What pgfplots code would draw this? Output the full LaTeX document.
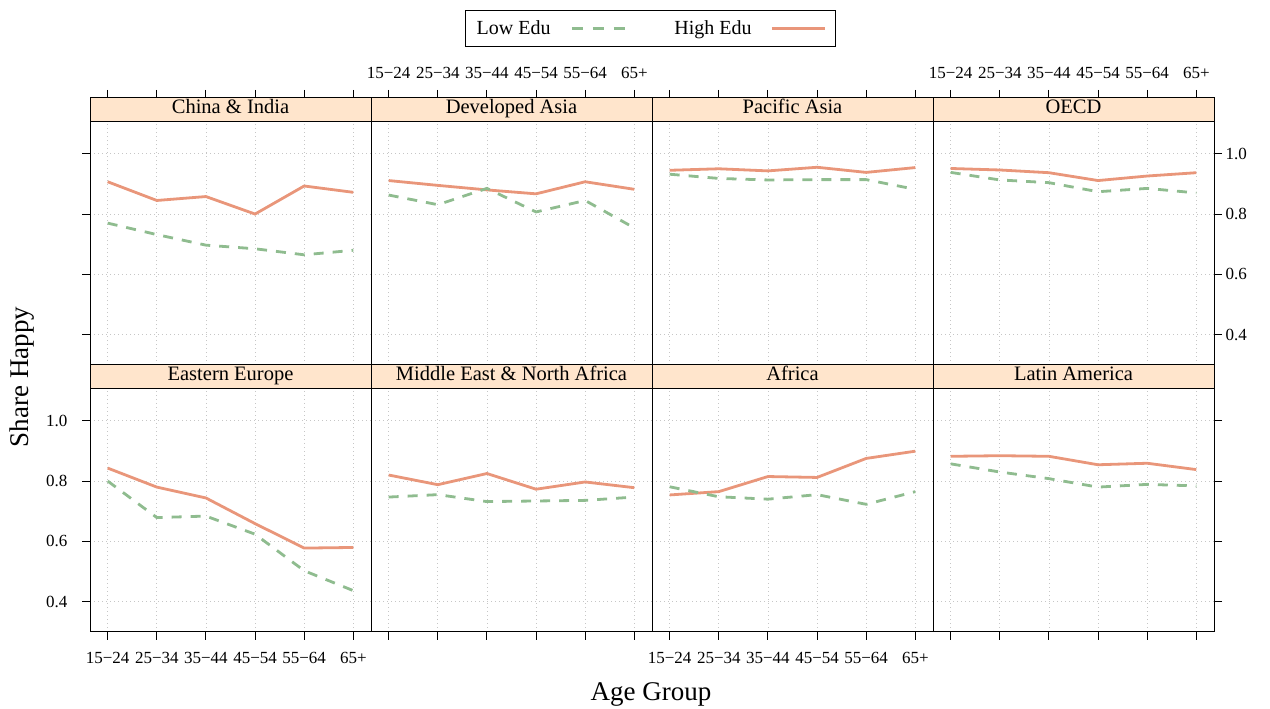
\documentclass[border=0pt]{standalone}
\usepackage{fontspec}
\setmainfont{Liberation Serif}
\usepackage{pgfplots}
\pgfplotsset{compat=1.18}
\definecolor{stripbg}{HTML}{FFE5CC}
\definecolor{hicol}{HTML}{E9967A}
\definecolor{locol}{HTML}{8FBC8F}
\pgfplotsset{
  panel/.style={
    scale only axis, width=281pt, height=267pt, anchor=south west,
    xmin=0.64, xmax=6.36, ymin=0.30, ymax=1.1845,
    xtick={1,...,6}, ytick={0.4,0.6,0.8,1.0},
    xticklabels={15−24,25−34,35−44,45−54,55−64,65+},
    grid=major,
    major grid style={draw=gray!45, line width=0.8pt, dash pattern=on 1pt off 3pt},
    tick align=outside, major tick length=8pt,
    tick style={black, line width=1pt},
    axis line style={line width=1pt},
    tick label style={font=\fontsize{17}{20}\selectfont},
    /pgf/number format/assume math mode=true,
    yticklabel style={/pgf/number format/fixed, /pgf/number format/fixed zerofill, /pgf/number format/precision=1},
  },
  toprow/.style={xtick pos=upper, xticklabel pos=upper, xticklabel style={/tikz/yshift=8pt}},
  botrow/.style={xtick pos=lower, xticklabel pos=lower, xticklabel style={/tikz/yshift=-9pt}},
  hi/.style={hicol, line width=2.8pt},
  lo/.style={locol, line width=2.8pt, dash pattern=on 10pt off 9pt},
  noy/.style={ytick style={draw=none}, yticklabels={}},
}
\newcommand{\strip}[1]{%
  \draw[fill=stripbg, line width=1pt] (rel axis cs:0,0.91011) rectangle (rel axis cs:1,1);
  \node[font=\fontsize{20.5}{24}\selectfont, text height=0.7em, text depth=0.2em] at (rel axis cs:0.5,0.952) {#1};
}
\begin{document}
\begin{tikzpicture}
\useasboundingbox (0pt,0pt) rectangle (1270pt,709pt);
% ---------- top row ----------
\begin{axis}[panel, toprow, at={(90pt,344pt)}, xticklabels={}, ytick pos=left, yticklabels={},
  legend plot pos=right,
  legend image code/.code={\draw[#1, dash phase=0pt] (0pt,0pt) -- (53pt,0pt);},
  legend style={at={(1.9947,1.2603)}, anchor=center, draw=black, line width=1pt,
    font=\fontsize{20}{24}\selectfont, legend columns=2, inner xsep=9pt, inner ysep=8.5pt,
    /tikz/column 1/.style={column sep=18pt},
    /tikz/column 2/.style={column sep=46pt},
    /tikz/column 3/.style={column sep=17pt}}]
\addlegendimage{locol, line width=2.8pt, dash pattern=on 11pt off 10pt}\addlegendentry{Low Edu}
\addlegendimage{hi}\addlegendentry{High Edu}
\strip{China \& India}
\addplot[hi, forget plot] coordinates {(1,0.907) (2,0.845) (3,0.858) (4,0.800) (5,0.893) (6,0.872)};
\addplot[lo, forget plot] coordinates {(1,0.770) (2,0.732) (3,0.697) (4,0.685) (5,0.665) (6,0.680)};
\end{axis}
\begin{axis}[panel, toprow, at={(371pt,344pt)}, noy]
\strip{Developed Asia}
\addplot[hi] coordinates {(1,0.911) (2,0.895) (3,0.880) (4,0.867) (5,0.907) (6,0.882)};
\addplot[lo] coordinates {(1,0.863) (2,0.831) (3,0.885) (4,0.807) (5,0.845) (6,0.754)};
\end{axis}
\begin{axis}[panel, toprow, at={(652pt,344pt)}, xticklabels={}, noy]
\strip{Pacific Asia}
\addplot[hi] coordinates {(1,0.945) (2,0.950) (3,0.943) (4,0.955) (5,0.938) (6,0.954)};
\addplot[lo] coordinates {(1,0.932) (2,0.918) (3,0.913) (4,0.914) (5,0.914) (6,0.882)};
\end{axis}
\begin{axis}[panel, toprow, at={(933pt,344pt)}, ytick pos=right, yticklabel pos=right]
\strip{OECD}
\addplot[hi] coordinates {(1,0.951) (2,0.946) (3,0.937) (4,0.911) (5,0.926) (6,0.937)};
\addplot[lo] coordinates {(1,0.938) (2,0.913) (3,0.904) (4,0.874) (5,0.885) (6,0.870)};
\end{axis}
% ---------- bottom row ----------
\begin{axis}[panel, botrow, at={(90pt,77pt)}, ytick pos=left, yticklabel pos=left,
  yticklabel style={/tikz/xshift=-11pt}]
\strip{Eastern Europe}
\addplot[hi] coordinates {(1,0.843) (2,0.780) (3,0.744) (4,0.659) (5,0.578) (6,0.580)};
\addplot[lo] coordinates {(1,0.800) (2,0.679) (3,0.684) (4,0.624) (5,0.503) (6,0.437)};
\end{axis}
\begin{axis}[panel, botrow, at={(371pt,77pt)}, xticklabels={}, noy]
\strip{Middle East \& North Africa}
\addplot[hi] coordinates {(1,0.820) (2,0.788) (3,0.825) (4,0.773) (5,0.797) (6,0.778)};
\addplot[lo] coordinates {(1,0.747) (2,0.755) (3,0.732) (4,0.734) (5,0.736) (6,0.747)};
\end{axis}
\begin{axis}[panel, botrow, at={(652pt,77pt)}, noy]
\strip{Africa}
\addplot[hi] coordinates {(1,0.754) (2,0.765) (3,0.815) (4,0.812) (5,0.875) (6,0.899)};
\addplot[lo] coordinates {(1,0.781) (2,0.748) (3,0.740) (4,0.755) (5,0.723) (6,0.765)};
\end{axis}
\begin{axis}[panel, botrow, at={(933pt,77pt)}, xticklabels={}, ytick pos=right, yticklabels={}]
\strip{Latin America}
\addplot[hi] coordinates {(1,0.882) (2,0.884) (3,0.882) (4,0.854) (5,0.859) (6,0.838)};
\addplot[lo] coordinates {(1,0.857) (2,0.830) (3,0.808) (4,0.780) (5,0.789) (6,0.784)};
\end{axis}
\node[font=\fontsize{27}{31}\selectfont] at (651pt,15pt) {Age Group};
\node[font=\fontsize{27}{31}\selectfont, rotate=90] at (22pt,332pt) {Share Happy};
\end{tikzpicture}
\end{document}
